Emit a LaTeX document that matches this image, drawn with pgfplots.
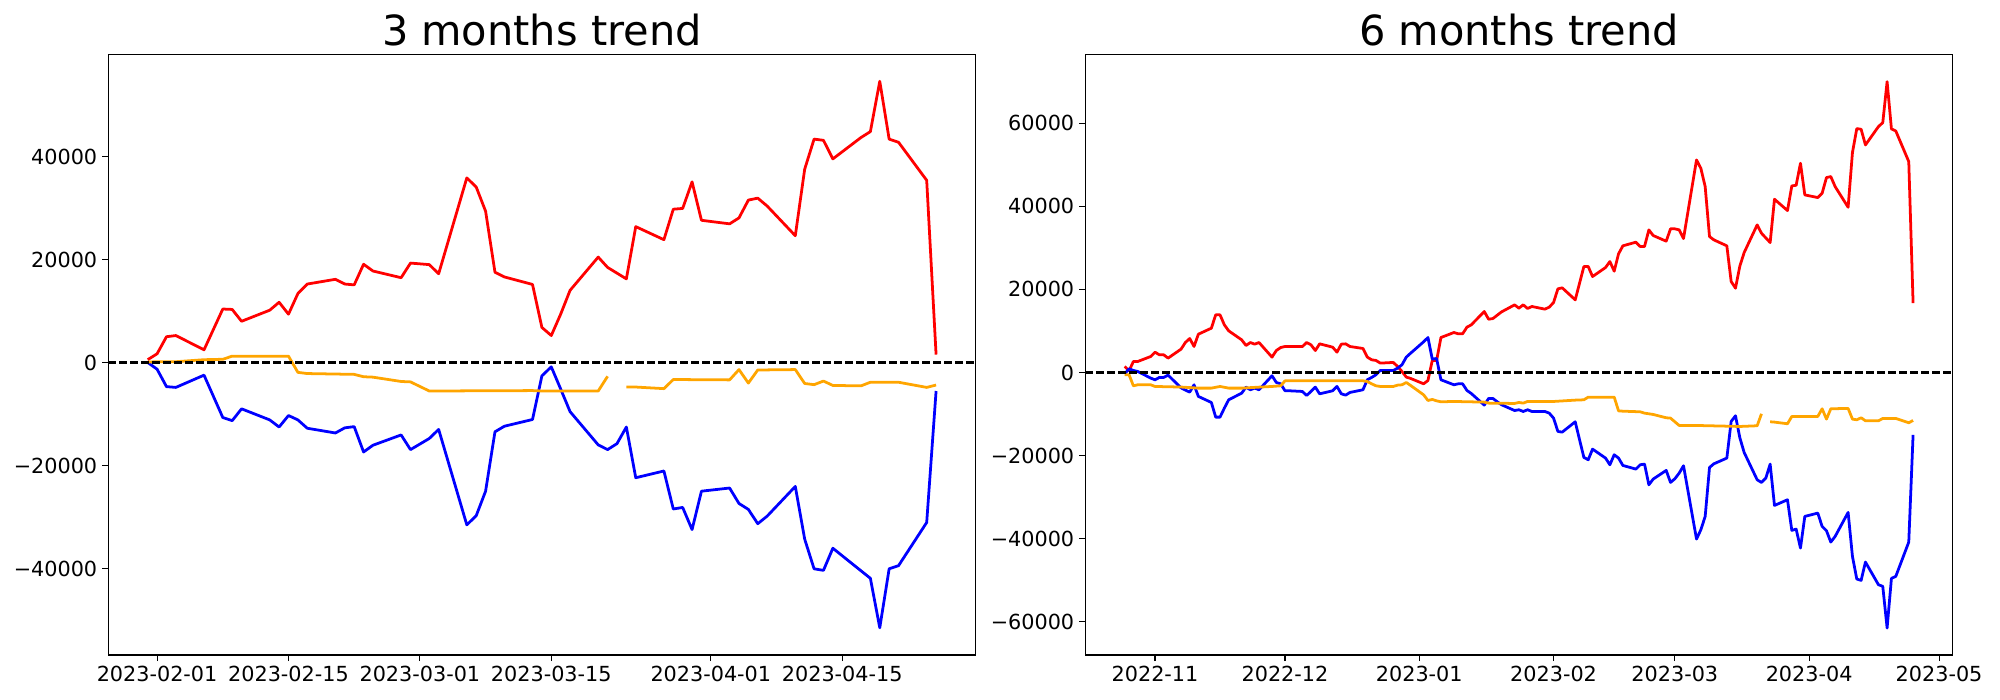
\documentclass[border=0pt]{standalone}
\usepackage{fontspec}
\setmainfont{DejaVu Sans}
\usepackage{pgfplots}
\pgfplotsset{compat=1.18}
\definecolor{mplorange}{RGB}{255,165,0}
\pgfplotsset{
  trendaxis/.style={
    scale only axis, width=8.672in, height=6.005in,
    anchor=south west,
    axis line style={line width=0.8pt},
    tick style={black, line width=0.8pt},
    tick align=outside, major tick length=4.5pt,
    xtick pos=left, ytick pos=left,
    tick label style={font=\fontsize{15}{18}\selectfont},
    /pgf/number format/assume math mode=true,
    scaled ticks=false,
    title style={font=\fontsize{30}{36}\selectfont, at={(0.5,1)}, anchor=base, yshift=0.2pt},
    every axis plot/.append style={line width=2pt, line join=round},
  },
}
\begin{document}
\begin{tikzpicture}
\useasboundingbox (0,0) rectangle (20in,7in);
% ---------------- 3 months ----------------
\begin{axis}[trendaxis, at={(1.083in,0.45in)},
  title={3 months trend},
  xmin=-5.2, xmax=87.2, ymin=-56800, ymax=59800,
  xtick={0,14,28,42,59,73},
  xticklabels={2023-02-01,2023-02-15,2023-03-01,2023-03-15,2023-04-01,2023-04-15},
  ytick={-40000,-20000,0,20000,40000},
  yticklabels={−40000,−20000,0,20000,40000},
]
\addplot[red] coordinates {
(-1,540) (0,1690) (1,5000) (2,5230) (5,2460) (7,10380) (8,10300) (9,8000) (12,10150) (13,11690)
(14,9380) (15,13380) (16,15230) (19,16150) (20,15230) (21,15070) (22,19070) (23,17760) (26,16460)
(27,19300) (29,19000) (30,17230) (33,35840) (34,34070) (35,29380) (36,17530) (37,16610) (40,15150)
(41,6800) (42,5230) (43,9380) (44,14000) (47,20460) (48,18460) (50,16230) (51,26380) (54,23840)
(55,29760) (56,29910) (57,35070) (58,27610) (61,26920) (62,28070) (63,31530) (64,31910) (65,30380)
(68,24610) (69,37530) (70,43370) (71,43140) (72,39530) (75,43680) (76,44830) (77,54600) (78,43370)
(79,42760) (82,35370) (83,1540)
};
\addplot[blue] coordinates {
(-1,0) (0,-1310) (1,-4690) (2,-4840) (5,-2460) (7,-10690) (8,-11300) (9,-9000) (12,-11150)
(13,-12530) (14,-10300) (15,-11150) (16,-12770) (19,-13690) (20,-12690) (21,-12460) (22,-17380)
(23,-16070) (26,-14070) (27,-16920) (29,-14760) (30,-13000) (33,-31530) (34,-29760) (35,-24990)
(36,-13460) (37,-12380) (40,-11070) (41,-2600) (42,-850) (43,-5150) (44,-9540) (47,-16000)
(48,-16920) (49,-15760) (50,-12530) (51,-22380) (54,-21070) (55,-28450) (56,-28150) (57,-32450)
(58,-24990) (61,-24380) (62,-27380) (63,-28530) (64,-31300) (65,-29840) (68,-24070) (69,-34300)
(70,-40060) (71,-40370) (72,-36070) (75,-40450) (76,-41910) (77,-51520) (78,-40060) (79,-39450)
(82,-31070) (83,-5540)
};
\addplot[mplorange] coordinates {
(-1,80) (0,150) (2,150) (5,540) (7,620) (8,1230) (14,1230) (15,-1920) (16,-2150) (21,-2310)
(22,-2770) (23,-2850) (26,-3690) (27,-3770) (29,-5540) (40,-5460) (41,-5540) (47,-5540) (48,-2690)
};
\addplot[mplorange] coordinates {
(50,-4770) (51,-4770) (54,-5080) (55,-3310) (61,-3380) (62,-1380) (63,-4000) (64,-1460) (68,-1380)
(69,-4080) (70,-4310) (71,-3610) (72,-4460) (75,-4540) (76,-3840) (79,-3840) (82,-4840) (83,-4380)
};
\addplot[black, line width=1.5pt, dash pattern=on 5.55pt off 2.4pt] coordinates {(-5.2,0) (87.2,0)};
\end{axis}
% ---------------- 6 months ----------------
\begin{axis}[trendaxis, at={(10.853in,0.45in)},
  title={6 months trend},
  xmin=-16.1, xmax=184.1, ymin=-68000, ymax=76550,
  xtick={0,30,61,92,120,151,181},
  xticklabels={2022-11,2022-12,2023-01,2023-02,2023-03,2023-04,2023-05},
  ytick={-60000,-40000,-20000,0,20000,40000,60000},
  yticklabels={−60000,−40000,−20000,0,20000,40000,60000},
]
\addplot[red] coordinates {
(-7,1450) (-6,410) (-5,2650) (-4,2650) (-1,3850) (0,4890) (1,4260) (2,4260) (3,3460) (6,5620)
(7,7220) (8,8180) (9,6270) (10,9220) (13,10670) (14,13880) (15,13880) (16,11470) (17,10030)
(20,7860) (21,6500) (22,7220) (23,6820) (24,7220) (27,3700) (28,5290) (29,6010) (30,6260)
(34,6240) (35,7220) (36,6660) (37,5290) (38,6900) (41,6100) (42,4900) (43,6820) (44,6900)
(45,6260) (48,5780) (49,3700) (50,3060) (51,2900) (52,2260) (55,2420) (56,1450) (57,250)
(58,-1110) (59,-1430) (62,-2720) (63,-1930) (64,2900) (65,2900) (66,8420) (69,9630) (70,9310)
(71,9310) (72,10910) (73,11470) (76,14680) (77,12830) (78,12990) (79,13800) (80,14600) (83,16280)
(84,15490) (85,16290) (86,15410) (87,15890) (90,15250) (91,15730) (92,16850) (93,20140) (94,20380)
(97,17490) (98,21500) (99,25510) (100,25510) (101,23100) (104,25270) (105,26710) (106,24390)
(107,28560) (108,30490) (111,31370) (112,30330) (113,30330) (114,34330) (115,32970) (118,31610)
(119,34580) (120,34580) (121,34330) (122,32250) (125,51170) (126,49160) (127,44750) (128,32720)
(129,31930) (132,30490) (133,21900) (134,20300) (135,25600) (136,28870) (139,35530) (140,33520)
(141,32400) (142,31280) (143,41710) (146,38980) (147,44910) (148,45070) (149,50370) (150,42750)
(153,42110) (154,43150) (155,46920) (156,47160) (157,44750) (160,39780) (161,52940) (162,58710)
(163,58550) (164,54780) (167,59190) (168,60150) (169,70020) (170,58630) (171,58150) (174,50770)
(175,16690)
};
\addplot[blue] coordinates {
(-7,-310) (-6,890) (-5,490) (-4,250) (-1,-1350) (0,-1760) (1,-1190) (2,-1190) (3,-630) (6,-3690)
(7,-4240) (8,-4720) (9,-2960) (10,-5760) (13,-7210) (14,-10740) (15,-10740) (16,-8570) (17,-6570)
(20,-4970) (21,-3520) (22,-4160) (23,-3760) (24,-4160) (27,-790) (28,-2400) (29,-2720) (30,-4400)
(31,-4400) (34,-4560) (35,-5530) (36,-4560) (37,-3520) (38,-5130) (41,-4400) (42,-3360) (43,-5130)
(44,-5450) (45,-4800) (48,-4160) (49,-1750) (50,-1190) (51,-550) (52,490) (55,490) (56,1050)
(57,1850) (58,3700) (59,4650) (62,7390) (63,8420) (64,3220) (65,3370) (66,-1750) (69,-2960)
(70,-2720) (71,-2720) (72,-4320) (73,-5050) (76,-7850) (77,-6250) (78,-6250) (79,-7050) (80,-7770)
(83,-9150) (84,-8970) (85,-9380) (86,-8970) (87,-9380) (90,-9380) (91,-9780) (92,-10980) (93,-14190)
(94,-14350) (97,-11860) (98,-16190) (99,-20440) (100,-21000) (101,-18440) (104,-20600) (105,-22210)
(106,-19800) (107,-20600) (108,-22370) (111,-23250) (112,-22210) (113,-22050) (114,-27020)
(115,-25660) (118,-23570) (119,-26460) (120,-25580) (121,-24220) (122,-22450) (125,-40100)
(126,-37860) (127,-34650) (128,-22860) (129,-21980) (132,-20600) (133,-11780) (134,-10420)
(135,-15700) (136,-19250) (139,-25820) (140,-26470) (141,-25420) (142,-22050) (143,-32000)
(146,-30630) (147,-38010) (148,-37690) (149,-42260) (150,-34640) (153,-33840) (154,-37050)
(155,-38090) (156,-40820) (157,-39460) (160,-33680) (161,-44270) (162,-49720) (163,-50040)
(164,-45630) (167,-51080) (168,-51480) (169,-61510) (170,-49560) (171,-49080) (174,-40820)
(175,-15000)
};
\addplot[mplorange] coordinates {
(-7,-550) (-6,-550) (-5,-3200) (-4,-2960) (-1,-2960) (0,-3360) (6,-3500) (10,-3760) (13,-3760)
(15,-3360) (17,-3760) (20,-3760) (24,-3520) (27,-3360) (29,-3200) (30,-2000) (48,-2000) (49,-2160)
(50,-2720) (51,-3200) (52,-3360) (55,-3360) (56,-3040) (57,-2960) (58,-2400) (59,-3120) (62,-5370)
(63,-6730) (64,-6490) (65,-6820) (66,-7050) (69,-6970) (76,-7130) (77,-7370) (83,-7450) (84,-7210)
(85,-7370) (86,-6970) (92,-6970) (97,-6650) (99,-6570) (100,-5930) (106,-5930) (107,-9230)
(108,-9310) (112,-9460) (113,-9780) (114,-9940) (115,-10100) (118,-10900) (119,-10980)
(121,-12750) (125,-12750) (135,-12990) (139,-12820) (140,-9940)
};
\addplot[mplorange] coordinates {
(142,-11860) (143,-11940) (146,-12340) (147,-10580) (153,-10580) (154,-8730) (155,-11220)
(156,-8730) (160,-8650) (161,-11220) (162,-11380) (163,-10900) (164,-11620) (167,-11620)
(168,-11060) (171,-11060) (174,-12100) (175,-11540)
};
\addplot[black, line width=1.5pt, dash pattern=on 5.55pt off 2.4pt] coordinates {(-16.1,0) (184.1,0)};
\end{axis}
\end{tikzpicture}
\end{document}
